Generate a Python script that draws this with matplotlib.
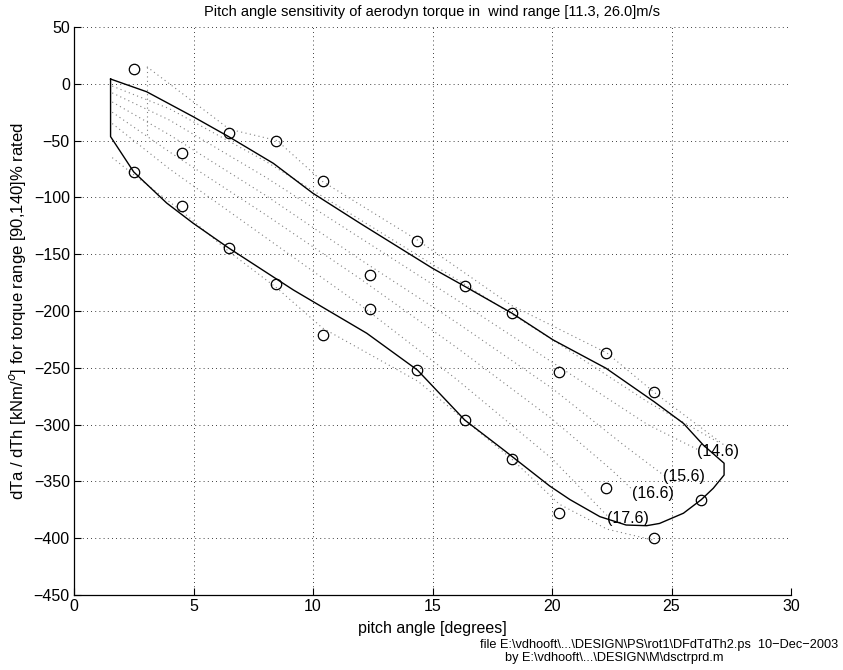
import matplotlib
matplotlib.use("Agg")
import matplotlib.pyplot as plt

plt.rcParams['font.family'] = ['Liberation Sans', 'DejaVu Sans']

# ---- data ----
circ_x = [2.5, 2.5, 4.5, 4.5, 6.47, 6.47, 8.45, 8.45, 10.4, 10.4, 12.38, 12.38,
          14.37, 14.37, 16.35, 16.35, 18.33, 18.33, 20.3, 20.3, 22.27, 22.27,
          24.27, 24.27, 26.25]
circ_y = [13, -77.6, -60.6, -107.8, -43.3, -144.5, -50.4, -176.5, -85.8, -221.4,
          -168.6, -198.5, -138.4, -252, -178.3, -296, -202, -330, -254, -378,
          -237, -356, -271.6, -400, -366]

env_x = [1.53, 3.04, 4.99, 6.47, 8.34, 10.0, 11.97, 15.0, 16.35, 18.33, 20.05,
         22.26, 24.27, 25.5, 26.33, 27.2, 27.2, 26.75, 26.25, 25.5, 24.5, 23.96,
         23.1, 22.0, 20.75, 19.9, 17.96, 16.35, 14.37, 12.25, 9.18, 6.47, 4.99,
         3.88, 2.5, 1.53, 1.53]
env_y = [4.2, -7, -29, -46.5, -70, -96.4, -122.8, -162.4, -178.3, -202, -225.5,
         -250.4, -279.8, -298.9, -318, -334, -344.4, -356, -366, -378, -387, -389,
         -388.4, -381, -366, -354, -322, -296, -252, -219.6, -181.5, -144.5, -122.8,
         -105, -77.6, -46.5, 4.2]

dot_lines = [
    ([3.05, 5.0, 6.5, 8.5, 10.4, 14.4, 18.3, 22.3, 24.3, 27.2],
     [15, -16, -40, -50, -86, -138, -195, -237, -272, -318]),
    ([3.05, 3.05], [15, -45]),
    ([1.6, 4, 8, 12, 16, 20, 24, 27.0],
     [-2, -22, -68, -120, -172, -225, -280, -316]),
    ([1.6, 4, 8, 12, 16, 20, 24, 26.1],
     [-8, -32, -82, -136, -190, -245, -300, -322]),
    ([1.6, 4, 8, 12, 16, 20, 23, 24.7],
     [-16, -45, -98, -155, -210, -268, -318, -345]),
    ([1.6, 4, 8, 12, 16, 20, 22.5, 23.4],
     [-25, -60, -115, -172, -232, -295, -340, -358]),
    ([1.6, 4, 8, 12, 16, 20, 22.3],
     [-35, -75, -135, -195, -260, -330, -380]),
    ([1.6, 2.5, 4.5, 6.5, 8.5, 10.4, 14.4, 18.3, 20.3, 22.3, 24.3],
     [-65, -80, -112, -148, -180, -215, -262, -330, -370, -392, -402]),
]

lab_text = ['(14.6)', '(15.6)', '(16.6)', '(17.6)']
lab_x = [26.05, 24.66, 23.36, 22.29]
lab_y = [-323.8, -345.8, -360.5, -382.5]

xticks = [0, 5, 10, 15, 20, 25, 30]
yticks = [50, 0, -50, -100, -150, -200, -250, -300, -350, -400, -450]

# ---- figure ----
fig = plt.figure(figsize=(8.43, 6.70), dpi=100)
ax = fig.add_axes([74/843, 1-595/670, 717/843, 568/670])

for xs, ys in dot_lines:
    ax.plot(xs, ys, color='0.5', linestyle=(0, (1, 3)), linewidth=0.8)

ax.plot(env_x, env_y, color='black', linewidth=1.0)
ax.plot(circ_x, circ_y, linestyle='none', marker='o', markersize=7.5,
        markerfacecolor='none', markeredgecolor='black', markeredgewidth=0.9)

for t, x, y in zip(lab_text, lab_x, lab_y):
    ax.text(x, y, t, fontsize=11.5, ha='left', va='center')

ax.set_xlim(0, 30)
ax.set_ylim(-450, 50)
ax.set_xticks(xticks)
ax.set_yticks(yticks)
ax.grid(True, color='black', linestyle=(0, (1, 4)), linewidth=0.6)
ax.tick_params(direction='in', length=5, labelsize=11.5, width=0.8, pad=3)
for s in ['top', 'right']:
    ax.spines[s].set_visible(False)
for s in ['left', 'bottom']:
    ax.spines[s].set_linewidth(0.9)

ax.set_title('Pitch angle sensitivity of aerodyn torque in  wind range [11.3, 26.0]m/s',
             fontsize=10.5, pad=8)
ax.set_xlabel('pitch angle [degrees]', fontsize=11.5, labelpad=5)
ax.set_ylabel('dTa / dTh [kNm/$^o$] for torque range [90,140]% rated', fontsize=12,
              labelpad=4)

fig.text(480/843, 1-645/670, r'file E:\vdhooft\...\DESIGN\PS\rot1\DFdTdTh2.ps  10' + '\u2212' + 'Dec' + '\u2212' + '2003',
         fontsize=9.2, ha='left', va='center')
fig.text(505/843, 1-658/670, r'by E:\vdhooft\...\DESIGN\M\dsctrprd.m',
         fontsize=9.2, ha='left', va='center')

fig.savefig('out.png', dpi=100)
